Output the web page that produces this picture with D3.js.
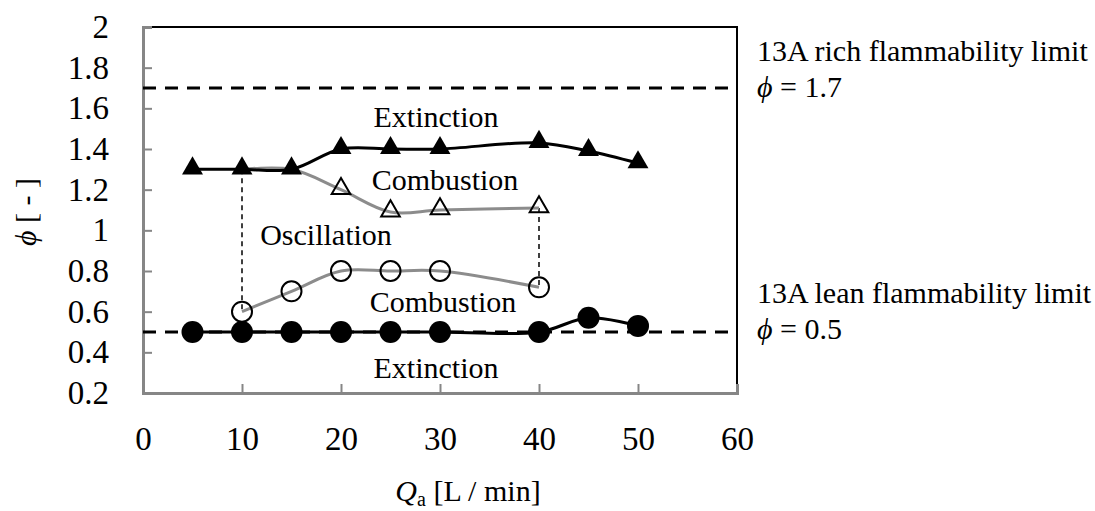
<!DOCTYPE html>
<html>
<head>
<meta charset="utf-8">
<script src="https://cdn.jsdelivr.net/npm/d3@7"></script>
</head>
<body style="margin:0">
<script>
// data
var xTicks = [0, 10, 20, 30, 40, 50, 60];
var yTicks = [0.2, 0.4, 0.6, 0.8, 1, 1.2, 1.4, 1.6, 1.8, 2];

var richX = [5, 10, 15, 20, 25, 30, 40, 45, 50];
var richY = [1.3, 1.3, 1.3, 1.4, 1.4, 1.4, 1.43, 1.39, 1.33];

var oscHighX = [10, 15, 20, 25, 30, 40];
var oscHighY = [1.3, 1.3, 1.2, 1.09, 1.1, 1.11];

var oscLowX = [10, 15, 20, 25, 30, 40];
var oscLowY = [0.6, 0.7, 0.8, 0.8, 0.8, 0.72];

var leanX = [5, 10, 15, 20, 25, 30, 40, 45, 50];
var leanY = [0.5, 0.5, 0.5, 0.5, 0.5, 0.5, 0.5, 0.57, 0.53];

var limitRich = 1.7;
var limitLean = 0.5;

var regionNames = ["Extinction", "Combustion", "Oscillation", "Combustion", "Extinction"];

function zip(xs, ys) { return xs.map(function(x, i) { return {x: x, y: ys[i]}; }); }

var svgWidth = 1095, svgHeight = 511;
var margin = {top: 27, right: 358, bottom: 118, left: 143};
var width = svgWidth - margin.left - margin.right;
var height = svgHeight - margin.top - margin.bottom;

var svg = d3.select("body").append("svg")
  .attr("width", svgWidth).attr("height", svgHeight)
  .style("display", "block");

var g = svg.append("g")
  .attr("transform", `translate(${margin.left}, ${margin.top})`);

var x = d3.scaleLinear().domain([0, 60]).range([0, width]);
var y = d3.scaleLinear().domain([0.2, 2]).range([height, 0]);

// frame (top/right black)
g.append("path")
  .attr("d", `M0,0H${width}V${height}`)
  .attr("fill", "none").attr("stroke", "#000").attr("stroke-width", 2);

// axes
var xAxis = g.append("g").attr("transform", `translate(0, ${height})`)
  .call(d3.axisBottom(x).tickValues(xTicks).tickSize(-9).tickPadding(22).tickFormat(d3.format("d")));
var yAxis = g.append("g")
  .call(d3.axisLeft(y).tickValues(yTicks).tickSize(-9).tickPadding(34).tickFormat(function(d) { return d3.format("")(+d.toFixed(1)); }));

[xAxis, yAxis].forEach(function(a) {
  a.attr("font-family", null).attr("font-size", null);
  a.select(".domain").attr("stroke", "#868686").attr("stroke-width", 3);
  a.selectAll(".tick line").attr("stroke", "#868686").attr("stroke-width", 2);
  a.selectAll(".tick text").attr("fill", "#000")
    .style("font-family", d => '"Liberation Serif"')
    .style("font-size", "33px");
});
xAxis.selectAll(".tick").filter(function(d) { return d === 0 || d === 60; }).select("line").remove();
yAxis.selectAll(".tick").filter(function(d) { return d === 0.2 || d === 2; }).select("line").remove();
xAxis.selectAll(".tick text").attr("dy", "1.05em");

// flammability limits
[limitRich, limitLean].forEach(function(v) {
  g.append("line")
    .attr("x1", 0).attr("x2", width)
    .attr("y1", y(v)).attr("y2", y(v))
    .attr("stroke", "#000").attr("stroke-width", 3)
    .attr("stroke-dasharray", "13,9");
});

// vertical dashed connectors
[[10, oscHighY[0], oscLowY[0]], [40, oscHighY[5], oscLowY[5]]].forEach(function(c) {
  g.append("line")
    .attr("x1", x(c[0])).attr("x2", x(c[0]))
    .attr("y1", y(c[1])).attr("y2", y(c[2]))
    .attr("stroke", "#000").attr("stroke-width", 1.5)
    .attr("stroke-dasharray", "5,4");
});

var line = d3.line().x(d => x(d.x)).y(d => y(d.y)).curve(d3.curveCatmullRom.alpha(0.5));

function series(data, color) {
  g.append("path").datum(data)
    .attr("d", line)
    .attr("fill", "none").attr("stroke", color).attr("stroke-width", 3);
}

series(zip(oscHighX, oscHighY), "#8c8c8c");
series(zip(oscLowX, oscLowY), "#8c8c8c");
series(zip(richX, richY), "#000");
series(zip(leanX, leanY), "#000");

g.selectAll(".richPt").data(zip(richX, richY)).enter().append("path")
  .attr("transform", d => `translate(${x(d.x)}, ${y(d.y) - 1})`)
  .attr("d", d3.symbol().type(d3.symbolTriangle).size(190)).attr("fill", "#000");

g.selectAll(".oscHighPt").data(zip(oscHighX, oscHighY).slice(2)).enter().append("path")
  .attr("transform", d => `translate(${x(d.x)}, ${y(d.y) - 1})`)
  .attr("d", d3.symbol().type(d3.symbolTriangle).size(150))
  .attr("fill", "none").attr("stroke", "#000").attr("stroke-width", 2);

g.selectAll(".oscLowPt").data(zip(oscLowX, oscLowY)).enter().append("circle")
  .attr("cx", d => x(d.x)).attr("cy", d => y(d.y)).attr("r", 10)
  .attr("fill", "none").attr("stroke", "#000").attr("stroke-width", 2);

g.selectAll(".leanPt").data(zip(leanX, leanY)).enter().append("circle")
  .attr("cx", d => x(d.x)).attr("cy", d => y(d.y)).attr("r", 11)
  .attr("fill", "#000");

// region labels, placed in pixel space
var regionPos = [[436, 127], [445, 190], [326, 245], [443, 312], [436, 378]];
svg.selectAll(".region").data(regionNames).enter().append("text")
  .attr("x", (d, i) => regionPos[i][0]).attr("y", (d, i) => regionPos[i][1])
  .attr("text-anchor", "middle")
  .style("font-family", d => '"Liberation Serif"')
  .style("font-size", "30px")
  .text(d => d);

// right-hand limit annotations
var notes = [
  {title: "13A rich flammability limit", val: "1.7", y: 61},
  {title: "13A lean flammability limit", val: "0.5", y: 303}
];
svg.selectAll(".noteTitle").data(notes).enter().append("text")
  .attr("x", 757).attr("y", d => d.y)
  .style("font-family", d => '"Liberation Serif"')
  .style("font-size", "30px")
  .text(d => d.title);
var nv = svg.selectAll(".noteVal").data(notes).enter().append("text")
  .attr("x", 757).attr("y", d => d.y + 36)
  .style("font-family", d => '"Liberation Serif"')
  .style("font-size", "30px");
nv.append("tspan").style("font-style", "italic").text("\u03d5");
nv.append("tspan").text(d => " = " + d.val);

// axis titles
var xt = svg.append("text").attr("x", 468).attr("y", 501)
  .attr("text-anchor", "middle")
  .style("font-family", '"Liberation Serif"')
  .style("font-size", "30px");
xt.append("tspan").style("font-style", "italic").text("Q");
xt.append("tspan").style("font-size", "20px").attr("dy", 5).text("a");
xt.append("tspan").attr("dy", -5).text(" [L / min]");

var yt = svg.append("text")
  .attr("transform", "translate(36, 212) rotate(-90)")
  .attr("text-anchor", "middle")
  .style("font-family", '"Liberation Serif"')
  .style("font-size", "30px");
yt.append("tspan").style("font-style", "italic").text("\u03d5");
yt.append("tspan").text(" [ - ]");
</script>
</body>
</html>
